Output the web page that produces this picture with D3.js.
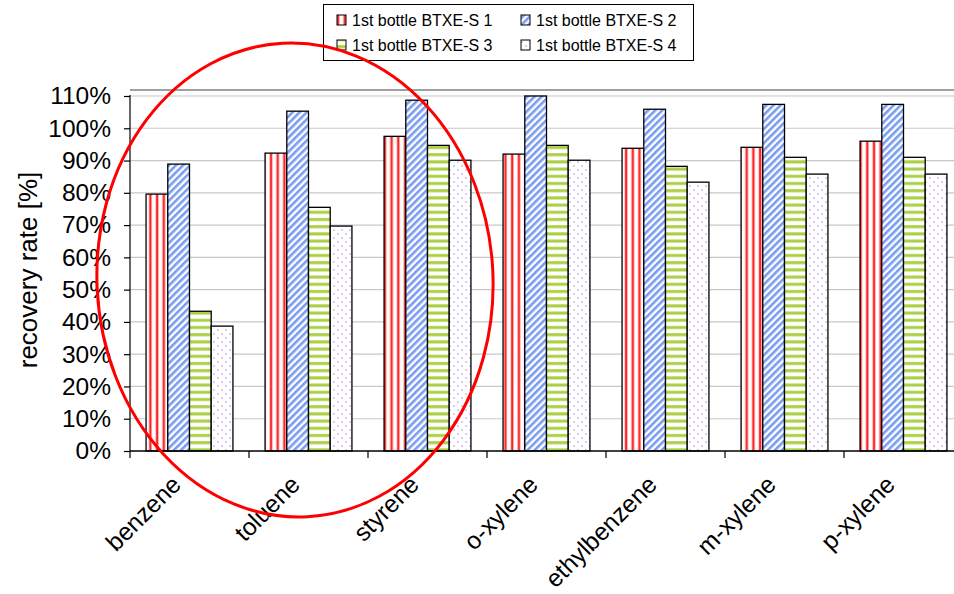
<!DOCTYPE html>
<html><head><meta charset="utf-8">
<script src="https://cdn.jsdelivr.net/npm/d3@7"></script>
<style>body{margin:0;background:#fff}svg{display:block;font-family:"Liberation Sans",Arial,sans-serif}</style>
</head><body><svg id="c" width="954" height="594"></svg>
<script>
const categories = ["benzene","toluene","styrene","o-xylene","ethylbenzene","m-xylene","p-xylene"];
const seriesNames = ["1st bottle BTXE-S 1","1st bottle BTXE-S 2","1st bottle BTXE-S 3","1st bottle BTXE-S 4"];
const s1 = [79.6, 92.3, 97.5, 92.0, 93.8, 94.1, 96.0];
const s2 = [88.9, 105.3, 108.7, 110.0, 105.9, 107.4, 107.4];
const s3 = [43.3, 75.5, 94.7, 94.7, 88.2, 91.0, 91.0];
const s4 = [38.7, 69.7, 90.1, 90.1, 83.3, 85.8, 85.8];
const yTicks = [0,10,20,30,40,50,60,70,80,90,100,110];
const series = [s1,s2,s3,s4];

const svg = d3.select("#c");
const defs = svg.append("defs");
// patterns
let p = defs.append("pattern").attr("id","p0").attr("patternUnits","userSpaceOnUse").attr("width",6.7).attr("height",10);
p.append("rect").attr("width",6.7).attr("height",10).attr("fill","#fff");
p.append("rect").attr("x",1.5).attr("width",3).attr("height",10).attr("fill","#ff8a8a");
p.append("rect").attr("x",2.2).attr("width",1.6).attr("height",10).attr("fill","#ff1a1a");
p = defs.append("pattern").attr("id","p1").attr("patternUnits","userSpaceOnUse").attr("width",5).attr("height",5).attr("patternTransform","rotate(45)");
p.append("rect").attr("width",5).attr("height",5).attr("fill","#fff");
p.append("rect").attr("x",0).attr("width",2.6).attr("height",5).attr("fill","#7a9cf0");
p = defs.append("pattern").attr("id","p2").attr("patternUnits","userSpaceOnUse").attr("width",10).attr("height",7.2);
p.append("rect").attr("width",10).attr("height",7.2).attr("fill","#fff");
p.append("rect").attr("y",2).attr("width",10).attr("height",3).attr("fill","#a8d040");
p = defs.append("pattern").attr("id","p3").attr("patternUnits","userSpaceOnUse").attr("width",8).attr("height",8);
p.append("rect").attr("width",8).attr("height",8).attr("fill","#fff");
p.append("circle").attr("cx",2).attr("cy",2).attr("r",1).attr("fill","#d4b8f4");
p.append("circle").attr("cx",6).attr("cy",6).attr("r",1).attr("fill","#d4b8f4");

const L = 130, R = 963, T = 90, B = 451;
const x = d3.scaleBand().domain(categories).range([L,R]).paddingInner(0.27).paddingOuter(0.135);
const xs = d3.scaleBand().domain(d3.range(4)).range([0,x.bandwidth()]);
const y = d3.scaleLinear().domain([0,110]).range([B,96]);

// gridlines
svg.append("g").selectAll("line").data(yTicks.slice(1)).join("line")
  .attr("x1",L).attr("x2",R).attr("y1",d=>y(d)).attr("y2",d=>y(d))
  .attr("stroke","#c8c8c8").attr("stroke-width",1.2);
svg.append("line").attr("x1",L).attr("x2",R).attr("y1",T).attr("y2",T).attr("stroke","#a0a0a0").attr("stroke-width",2);

// bars
categories.forEach((c,ci)=>{
  series.forEach((s,si)=>{
    svg.append("rect").attr("x",x(c)+xs(si)).attr("y",y(s[ci])).attr("width",xs.bandwidth()).attr("height",B-y(s[ci]))
      .attr("fill",`url(#p${si})`).attr("stroke","#000").attr("stroke-width",1.3);
  });
});

// y axis
const ya = svg.append("g").attr("transform",`translate(${L},0)`).call(d3.axisLeft(y).tickValues(yTicks).tickFormat(d=>d+"%").tickSize(6).tickPadding(13));
ya.select(".domain").attr("stroke","#000").attr("stroke-width",1.2).attr("d",`M0,${T+5}V${B}`);
ya.selectAll(".tick line").attr("stroke","#000").attr("stroke-width",1.2);
ya.selectAll("text").attr("font-size",24.5).attr("fill","#000").attr("font-family","Liberation Sans, Arial, sans-serif");

// x axis
const xb = svg.append("g");
xb.append("line").attr("x1",L).attr("x2",R).attr("y1",B).attr("y2",B).attr("stroke","#000").attr("stroke-width",1.5);
const bounds = d3.range(categories.length+1).map(i=>L+i*(R-L)/categories.length);
xb.selectAll("line.t").data(bounds).join("line").attr("class","t").attr("x1",d=>d).attr("x2",d=>d).attr("y1",B).attr("y2",B+7).attr("stroke","#000").attr("stroke-width",1.2);
xb.selectAll("text").data(categories).join("text")
  .attr("transform",d=>`translate(${x(d)+x.bandwidth()/2-7},${B+35}) rotate(-45)`)
  .attr("text-anchor","end").attr("font-size",24.5).attr("fill","#000").text(d=>d);

// y label
svg.append("text").attr("transform",`translate(37,270) rotate(-90)`).attr("text-anchor","middle")
  .attr("font-size",26).text("recovery rate [%]");

// legend
const lg = svg.append("g");
lg.append("rect").attr("x",323.5).attr("y",4.5).attr("width",370).attr("height",56).attr("fill","#fff").attr("stroke","#000").attr("stroke-width",1);
const lpos = [[340,20],[524,20],[340,45],[524,45]];
seriesNames.forEach((n,i)=>{
  lg.append("rect").attr("x",lpos[i][0]-3).attr("y",lpos[i][1]-5).attr("width",9).attr("height",10).attr("fill",`url(#p${i})`).attr("stroke","#000").attr("stroke-width",1);
  lg.append("text").attr("x",lpos[i][0]+12).attr("y",lpos[i][1]+5.5).attr("font-size",16).text(n);
});

// red ellipse
svg.append("ellipse").attr("cx",295).attr("cy",280).attr("rx",198).attr("ry",237).attr("transform","rotate(-3,295,280)")
  .attr("fill","none").attr("stroke","#ff0000").attr("stroke-width",3);
</script></body></html>
